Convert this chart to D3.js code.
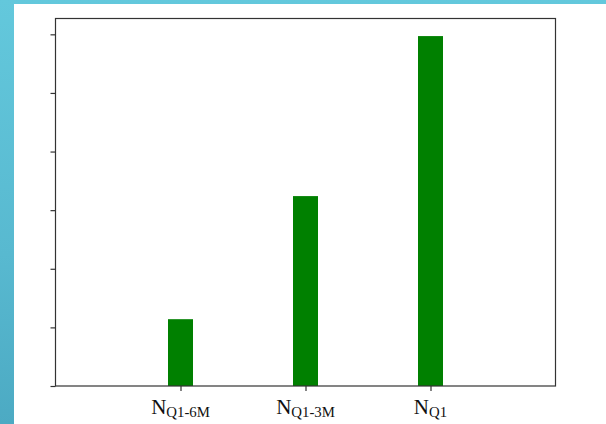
<!DOCTYPE html>
<html>
<head>
<meta charset="utf-8">
<script src="https://cdn.jsdelivr.net/npm/d3@7"></script>
<style>
  html, body { margin: 0; padding: 0; }
  body { width: 606px; height: 424px; overflow: hidden;
         background: linear-gradient(180deg, #63c8dc 0%, #58b9d0 60%, #4caac3 100%); }
  svg { display: block; }
</style>
</head>
<body>
<svg id="chart" width="606" height="424"></svg>
<script>
// Bar data: main symbol, subscript, x position and height
const categories = ["Q1-6M", "Q1-3M", "Q1"];
const positions = [1, 2, 3];
const values = [11.4, 32.4, 59.7];
const yTicks = [0, 10, 20, 30, 40, 50, 60];
const barWidth = 0.2;

const svg = d3.select("#chart");

// white card over the teal backdrop
svg.append("rect")
  .attr("x", 14).attr("y", 4)
  .attr("width", 606 - 14).attr("height", 424 - 4)
  .attr("fill", "#ffffff");

const plot = { left: 55.5, right: 555.5, top: 18.5, bottom: 386 };

const x = d3.scaleLinear().domain([0, 4]).range([plot.left, plot.right]);
const y = d3.scaleLinear().domain([0, 62.7]).range([plot.bottom, plot.top]);

// bars
svg.append("g")
  .selectAll("rect")
  .data(values)
  .join("rect")
  .attr("x", (d, i) => x(positions[i] - barWidth / 2))
  .attr("width", x(barWidth) - x(0))
  .attr("y", d => y(d))
  .attr("height", d => y(0) - y(d))
  .attr("fill", "#008000");

// y axis: ticks without labels
const yAxis = svg.append("g")
  .attr("transform", `translate(${plot.left},0)`)
  .call(d3.axisLeft(y).tickValues(yTicks).tickFormat("").tickSize(5).tickSizeOuter(0));
yAxis.select(".domain").remove();
yAxis.selectAll(".tick line").attr("stroke", "#333").attr("stroke-width", 1.2);

// x axis: ticks at bar centres, labels drawn as N with subscript
const xAxis = svg.append("g")
  .attr("transform", `translate(0,${plot.bottom})`)
  .call(d3.axisBottom(x).tickValues(positions).tickFormat("").tickSize(5).tickSizeOuter(0));
xAxis.select(".domain").remove();
xAxis.selectAll(".tick line").attr("stroke", "#333").attr("stroke-width", 1.2);

const labels = svg.append("g")
  .selectAll("text")
  .data(categories)
  .join("text")
  .attr("x", (d, i) => x(positions[i]))
  .attr("y", 413.5)
  .attr("text-anchor", "middle")
  .attr("font-family", "'Liberation Serif', 'Times New Roman', serif")
  .attr("fill", "#111");
labels.append("tspan").attr("font-size", 21).text("N");
labels.append("tspan").attr("font-size", 14.8).attr("dy", 3).text(d => d);

// frame around the plot area
svg.append("rect")
  .attr("x", plot.left).attr("y", plot.top)
  .attr("width", plot.right - plot.left).attr("height", plot.bottom - plot.top)
  .attr("fill", "none")
  .attr("stroke", "#333")
  .attr("stroke-width", 1.2);
</script>
</body>
</html>
